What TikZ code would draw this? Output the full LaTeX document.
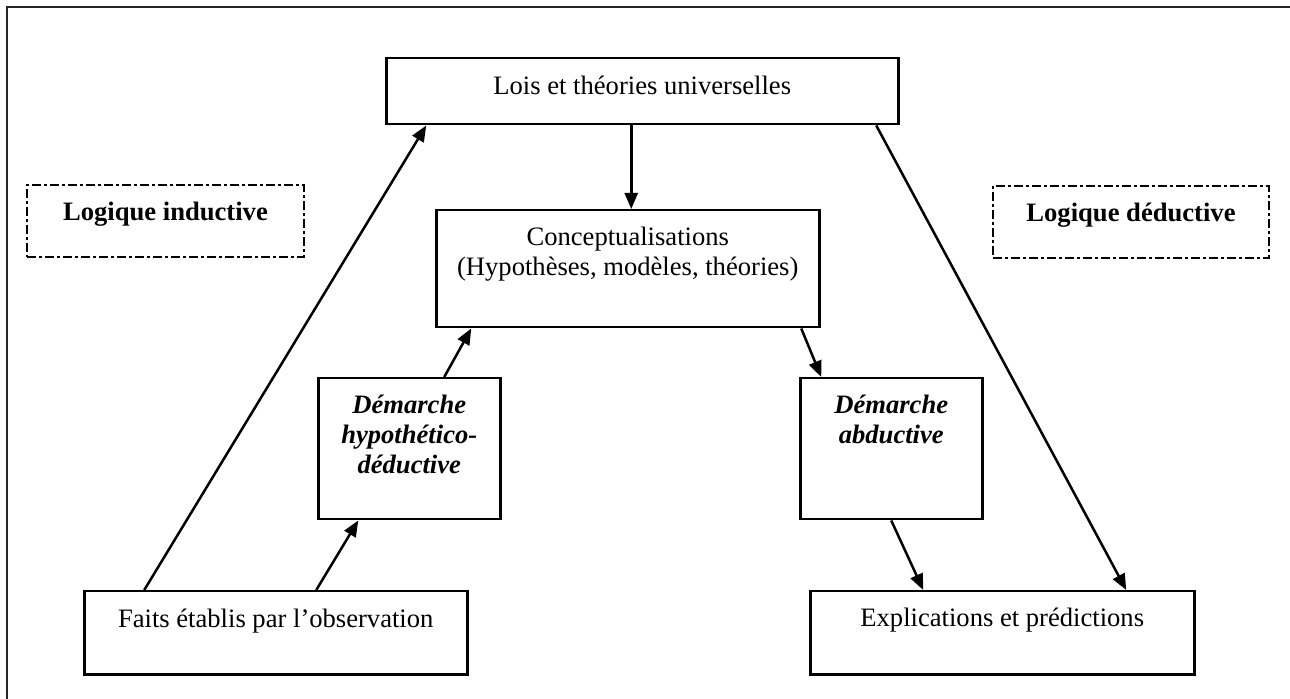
\documentclass[tikz,border=0pt]{standalone}
\usepackage{fontspec}
\setmainfont{Liberation Serif}
\usetikzlibrary{arrows.meta}

% fixed-size box content: width, height, first-baseline depth, text
\newcommand\inbox[4]{\parbox[c][#2][t]{#1}{\centering\rule{0pt}{#3}#4}}

\tikzset{
  box/.style={draw, line width=1.25pt, inner sep=0pt, anchor=north west,
              font=\fontsize{13.3pt}{15pt}\selectfont},
  logicbox/.style={draw, line width=1pt, inner sep=0pt, anchor=north west,
              dash pattern=on 4.5pt off 1.5pt on 1.5pt off 1.5pt,
              font=\fontsize{13.3pt}{15pt}\selectfont\bfseries},
  link/.style={line width=1.25pt, -{Triangle[length=8pt,width=6.5pt]}},
  frame/.style={line width=1.3pt, draw=black!85}
}

\begin{document}
\begin{tikzpicture}[x=0.5pt,y=-0.5pt]
\useasboundingbox (0,0) rectangle (1290,699);

% outer frame (only top and left edges fall inside the page)
\draw[frame] (7,710) -- (7,7) -- (1300,7);

% boxes
\node[box] (lois) at (385,57) {\inbox{256pt}{33pt}{18pt}{Lois et théories universelles}};
\node[box] (concept) at (435,209) {\inbox{191.5pt}{58.5pt}{17.5pt}{Conceptualisations\\(Hypothèses, modèles, théories)}};
\node[box] (hd) at (317,377) {\inbox{91pt}{70.5pt}{17.5pt}{\bfseries\itshape Démarche\\hypothético-\\déductive}};
\node[box] (abd) at (799,377) {\inbox{91pt}{70.5pt}{17.5pt}{\bfseries\itshape Démarche\\abductive}};
\node[box] (faits) at (83,590) {\inbox{191.5pt}{41.5pt}{18pt}{Faits établis par l’observation}};
\node[box] (expl) at (809,590) {\inbox{192pt}{41.5pt}{17.5pt}{Explications et prédictions}};

% logic labels
\node[logicbox] (ind) at (26,184) {\inbox{138.5pt}{36pt}{18pt}{Logique inductive}};
\node[logicbox] (ded) at (992,185) {\inbox{138pt}{36pt}{18pt}{Logique déductive}};

% connectors
\draw[link] ([xshift=-65.75pt]faits.north) -- ([xshift=-108pt]lois.south);
\draw[link] ([xshift=20.25pt]faits.north) -- ([xshift=-25.5pt]hd.south);
\draw[link] ([xshift=17.5pt]hd.north) -- ([xshift=-78.25pt]concept.south);
\draw[link] ([xshift=-5.5pt]lois.south) -- ([xshift=-5.5pt]lois.south |- concept.north);
\draw[link] ([xshift=86.75pt]concept.south) -- ([xshift=-35pt]abd.north);
\draw[link] (abd.south) -- ([xshift=-39.5pt]expl.north);
\draw[link] ([xshift=117pt]lois.south) -- ([xshift=62pt]expl.north);
\end{tikzpicture}
\end{document}
